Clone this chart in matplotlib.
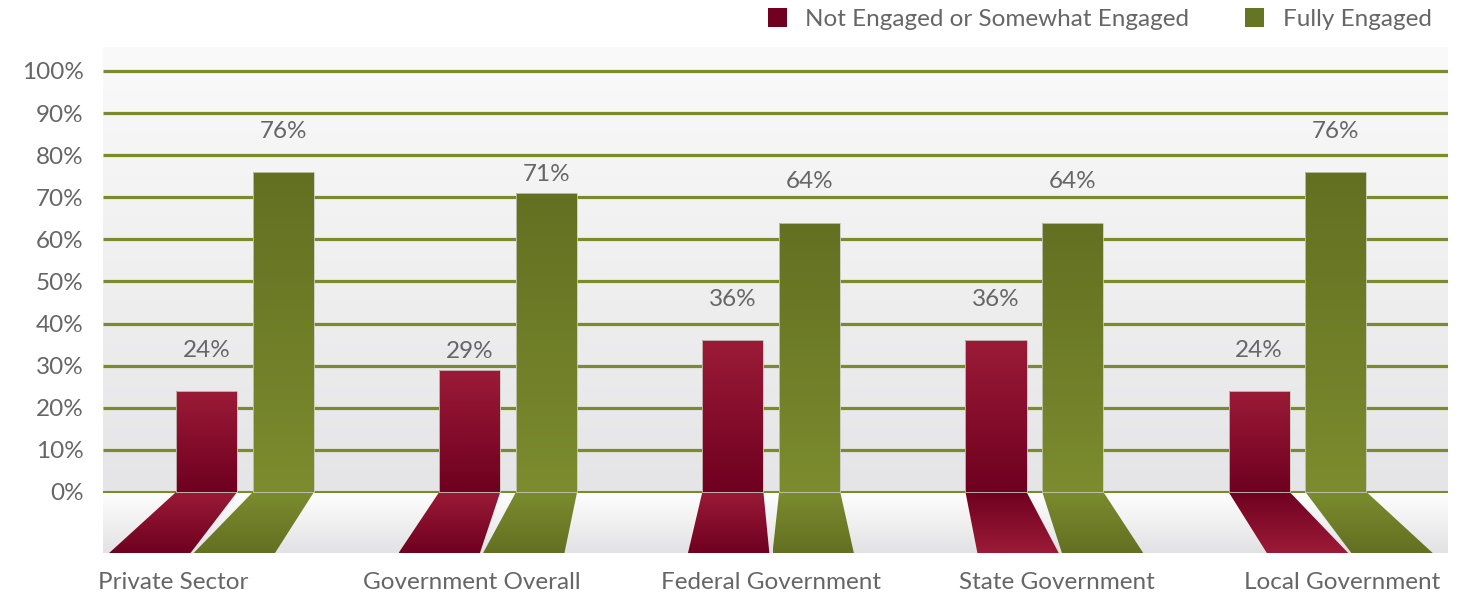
import matplotlib
matplotlib.use('Agg')
import matplotlib.pyplot as plt
import numpy as np
from matplotlib.patches import Polygon, Rectangle
from matplotlib.colors import to_rgb
import matplotlib.transforms as mtransforms

# ---------------- data ----------------
categories = ["Private Sector", "Government Overall", "Federal Government",
              "State Government", "Local Government"]
not_engaged = [24, 29, 36, 36, 24]
fully_engaged = [76, 71, 64, 64, 76]
series_names = ["Not Engaged or Somewhat Engaged", "Fully Engaged"]
y_ticks = [0, 10, 20, 30, 40, 50, 60, 70, 80, 90, 100]
y_tick_labels = [f"{t}%" for t in y_ticks]

# ---------------- style ----------------
plt.rcParams['font.family'] = ['Lato', 'DejaVu Sans']
FS = 17.5
TXT = '#666666'
RED_LIGHT, RED_DARK = '#9b1b37', '#6f0020'
GRN_DARK, GRN_LIGHT = '#637022', '#7c8c2e'
GRID = '#7b8a2b'
LEG_RED, LEG_GRN = '#720020', '#667524'

W, H = 1472, 592
fig = plt.figure(figsize=(W / 100, H / 100), dpi=100)


def px_rect(l, t, r, b):
    return [l / W, 1 - b / H, (r - l) / W, (b - t) / H]


ax = fig.add_axes(px_rect(103, 47, 1448, 553))
YMIN, YMAX = -14.5, 105.7
XMIN, XMAX = -0.54, 4.572
BAR_W = 0.232
OFF = 0.146
VX = 2.014        # perspective centre of the floor
SK = 0.10         # floor skew factor
WID = 0.027       # floor widening


def grad_fill(verts, c_top, c_bot, z):
    poly = Polygon(verts, closed=True, facecolor='none', edgecolor='none')
    ax.add_patch(poly)
    xs = [v[0] for v in verts]
    ys = [v[1] for v in verts]
    n = 256
    t = np.linspace(0, 1, n)[:, None, None]
    ct = np.array(to_rgb(c_top))[None, None, :]
    cb = np.array(to_rgb(c_bot))[None, None, :]
    img = ct * (1 - t) + cb * t
    im = ax.imshow(img, extent=(min(xs), max(xs), min(ys), max(ys)),
                   origin='upper', aspect='auto', interpolation='bilinear',
                   zorder=z)
    im.set_clip_path(poly)
    return poly


# backgrounds
grad_fill([(XMIN, 0), (XMAX, 0), (XMAX, YMAX), (XMIN, YMAX)], '#fafafa', '#e5e5e7', 0)
grad_fill([(XMIN, YMIN), (XMAX, YMIN), (XMAX, 0), (XMIN, 0)], '#ffffff', '#e2e2e4', 0)

# grid lines
for t in y_ticks:
    ax.plot([XMIN, XMAX], [t, t], color=GRID, lw=2.3 if t > 0 else 1.5,
            zorder=1, solid_capstyle='butt')


def floor_poly(xl, xr):
    bl = xl + SK * (xl - VX) - WID
    br = xr + SK * (xr - VX) + WID
    return [(xl, 0), (xr, 0), (br, YMIN), (bl, YMIN)]


for i in range(len(categories)):
    for val, off, top_c, bot_c, kind in (
            (not_engaged[i], -OFF, RED_LIGHT, RED_DARK, 'r'),
            (fully_engaged[i], OFF, GRN_DARK, GRN_LIGHT, 'g')):
        xc = i + off
        xl, xr = xc - BAR_W / 2, xc + BAR_W / 2
        grad_fill([(xl, 0), (xr, 0), (xr, val), (xl, val)], top_c, bot_c, 2)
        ax.add_patch(Rectangle((xl, 0), BAR_W, val, facecolor='none',
                               edgecolor='#c8c8bc', lw=0.6, zorder=3))
        # floor reflection
        if kind == 'r':
            if xc < VX:
                ft, fb = RED_LIGHT, RED_DARK
            else:
                ft, fb = RED_DARK, RED_LIGHT
        else:
            ft, fb = GRN_LIGHT, GRN_DARK
        grad_fill(floor_poly(xl, xr), ft, fb, 2)

# value labels
label_nudge = {1: -5.2}
for i in range(len(categories)):
    nd = label_nudge.get(i, 0)
    for val, off in ((not_engaged[i], -OFF), (fully_engaged[i], OFF)):
        ax.text(i + off, val + 8.1 + nd, f"{val}%", ha='center', va='baseline',
                fontsize=FS, color=TXT, zorder=5)

# category labels (follow floor perspective)
blend = mtransforms.blended_transform_factory(ax.transData, fig.transFigure)
for i, c in enumerate(categories):
    k = 0.135 if i < VX else 0.085
    xc = i + k * (i - VX)
    ax.text(xc, 3 / H, c, transform=blend, ha='center', va='baseline',
            fontsize=FS, color=TXT, clip_on=False)

ax.set_xlim(XMIN, XMAX)
ax.set_ylim(YMIN, YMAX)
ax.set_xticks([])
ax.set_yticks(y_ticks, y_tick_labels)
ax.tick_params(axis='y', length=0, pad=14, labelsize=FS, labelcolor=TXT)
for s in ax.spines.values():
    s.set_visible(False)

# legend (manual, right-aligned)
fig.canvas.draw()
r = fig.canvas.get_renderer()
base_y = 1 - 26 / H
t2 = fig.text(1432 / W, base_y, series_names[1], ha='right', va='baseline',
              fontsize=FS, color=TXT)
bb2 = t2.get_window_extent(r)
sq = 19
x_sq2 = bb2.x0 - 19 - sq
fig.patches.append(Rectangle((x_sq2 / W, 1 - 27 / H), sq / W, sq / H,
                             transform=fig.transFigure, facecolor=LEG_GRN,
                             edgecolor='none', figure=fig))
t1 = fig.text((x_sq2 - 56) / W, base_y, series_names[0], ha='right',
              va='baseline', fontsize=FS, color=TXT)
bb1 = t1.get_window_extent(r)
x_sq1 = bb1.x0 - 18 - sq
fig.patches.append(Rectangle((x_sq1 / W, 1 - 27 / H), sq / W, sq / H,
                             transform=fig.transFigure, facecolor=LEG_RED,
                             edgecolor='none', figure=fig))

fig.savefig('out.png', dpi=100)
